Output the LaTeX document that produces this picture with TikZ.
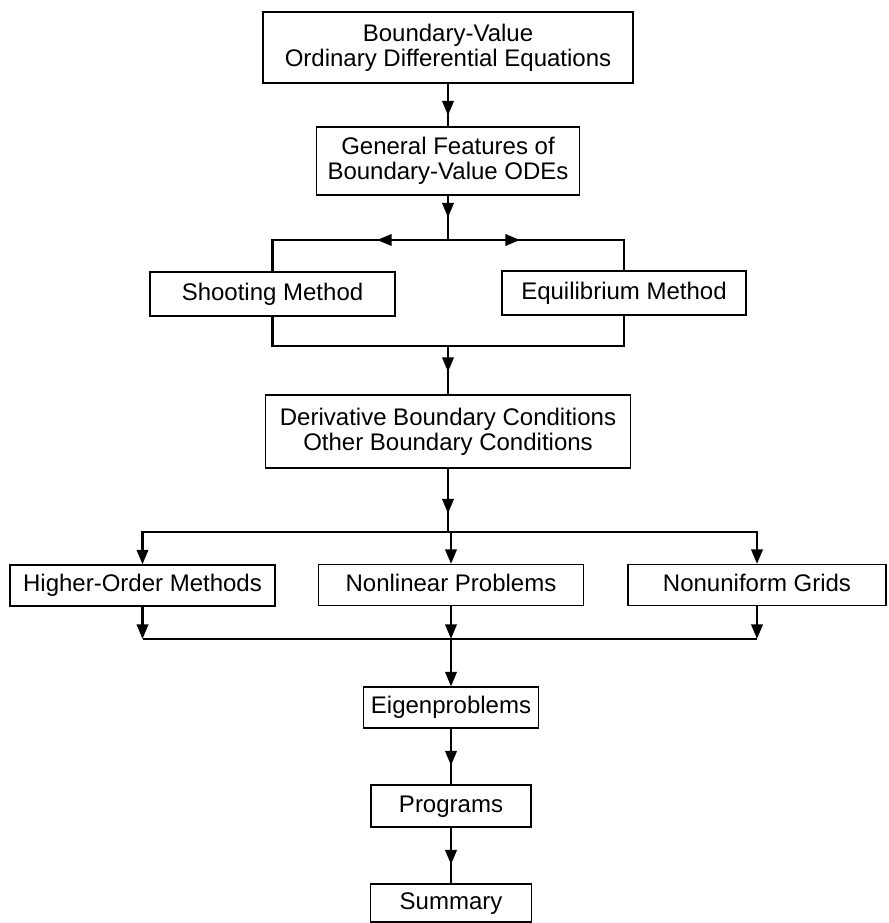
\documentclass[tikz,border=0pt]{standalone}
\usepackage{fontspec}
\setmainfont{Liberation Sans}
\usetikzlibrary{arrows.meta,decorations.markings}
\begin{document}
\begin{tikzpicture}[x=0.75pt,y=-0.75pt,
  box/.style={draw=black, line width=0.8pt, align=center, inner sep=0pt,
    font=\fontsize{18pt}{18.5pt}\selectfont},
  oneline/.style={box, text height=13.2pt, text depth=3.8pt},
  conn/.style={draw=black, line width=2pt},
  endtip/.style={-{Triangle[length=11pt,width=8.5pt]}},
  midarrow/.style={postaction={decorate},
    decoration={markings, mark=at position #1 with {\arrow{Triangle[length=11pt,width=8.5pt]}}}}
]
\useasboundingbox (0,0) rectangle (888,923);

% boxes
\node[box, minimum width=277.5pt, minimum height=53.25pt] (b1) at (448,47.5)
  {Boundary-Value\\Ordinary Differential Equations};
\node[box, minimum width=197.25pt, minimum height=51pt] (b2) at (448,161)
  {General Features of\\Boundary-Value ODEs};
\node[oneline, minimum width=183.75pt, minimum height=33pt] (shoot) at (272.5,294) {Shooting Method};
\node[oneline, minimum width=183pt, minimum height=33pt] (equi) at (624,293) {Equilibrium Method};
\node[box, minimum width=273.75pt, minimum height=54.75pt] (deriv) at (448,431.5)
  {Derivative Boundary Conditions\\Other Boundary Conditions};
\node[oneline, minimum width=198.75pt, minimum height=30.75pt] (higher) at (142.5,585.5) {Higher-Order Methods};
\node[oneline, minimum width=198.75pt, minimum height=30.75pt] (nonlin) at (451,585) {Nonlinear Problems};
\node[oneline, minimum width=193.5pt, minimum height=30.75pt] (nonuni) at (757,585) {Nonuniform Grids};
\node[oneline, minimum width=131.25pt, minimum height=30.75pt] (eigen) at (451,707.5) {Eigenproblems};
\node[oneline, minimum width=120pt, minimum height=31.5pt] (prog) at (451,806) {Programs};
\node[oneline, minimum width=120.75pt, minimum height=28.5pt] (summ) at (451,903) {Summary};

% junctions
\coordinate (s1) at (448,240);
\coordinate (j1) at (448,346);
\coordinate (s2) at (448,532);
\coordinate (j2) at (451,639);

% connectors
\draw[conn, midarrow=24pt] (b1.south) -- (b2.north);
\draw[conn, midarrow=16.5pt] (b2.south) -- (s1);
\draw[conn, midarrow=53.25pt] (s1) -| (shoot.north);
\draw[conn, midarrow=54pt] (s1) -| (equi.north);
\draw[conn] (shoot.south) |- (j1) -| (equi.south);
\draw[conn, midarrow=19.5pt] (j1) -- (deriv.north);
\draw[conn, midarrow=33.75pt] (deriv.south) -- (s2);
\draw[conn, endtip] (s2) -| (higher.north);
\draw[conn, endtip] (s2) -| (nonuni.north);
\draw[conn, endtip] (s2 -| nonlin.north) -- (nonlin.north);
\draw[conn, endtip] (higher.south) -- (higher.south |- j2);
\draw[conn, endtip] (nonlin.south) -- (j2);
\draw[conn, endtip] (nonuni.south) -- (nonuni.south |- j2);
\draw[conn] (higher.south |- j2) -- (nonuni.south |- j2);
\draw[conn, endtip] (j2) -- (eigen.north);
\draw[conn, midarrow=27.75pt] (eigen.south) -- (prog.north);
\draw[conn, midarrow=27.75pt] (prog.south) -- (summ.north);
\end{tikzpicture}
\end{document}
